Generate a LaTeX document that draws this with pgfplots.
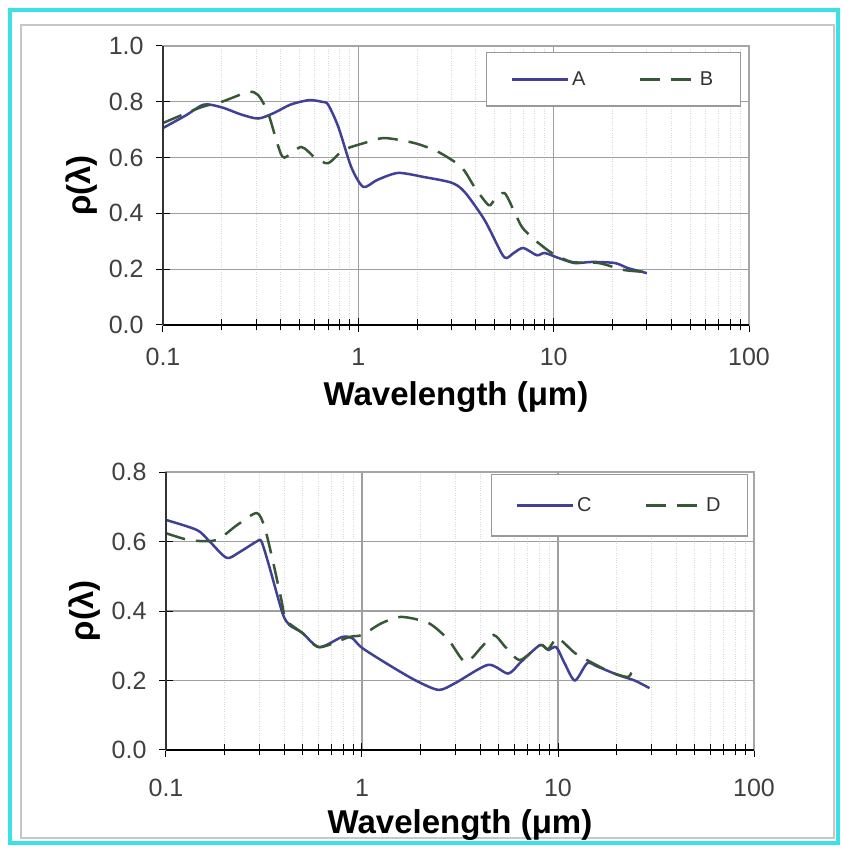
\documentclass[border=0pt]{standalone}
\usepackage{fontspec}
\setmainfont{Liberation Sans}
\usepackage{pgfplots}
\pgfplotsset{compat=1.18}
\definecolor{serA}{RGB}{64,64,150}
\definecolor{serB}{RGB}{55,88,55}
\definecolor{frameC}{RGB}{60,225,230}
\begin{document}
\begin{tikzpicture}
\fill[white] (0pt,0pt) rectangle (841pt,848pt);
\draw[frameC, line width=4pt] (10pt,5pt) rectangle (838pt,838pt);
\draw[gray!45, line width=1.5pt] (21pt,10pt) rectangle (834pt,823pt);
\begin{axis}[xmode=log, scale only axis,
    xmin=0.1, xmax=100,
    xtick={0.1,1,10,100}, xticklabels={0.1,1,10,100},
    minor xtick={0.2,0.3,0.4,0.5,0.6,0.7,0.8,0.9,2,3,4,5,6,7,8,9,20,30,40,50,60,70,80,90},
    tick align=center, tick pos=left,
    major tick length=14pt, minor tick length=11pt,
    tick style={black, line width=1pt},
    xmajorgrids, ymajorgrids, xminorgrids,
    major grid style={gray!75, line width=1.3pt},
    minor grid style={gray!30, dotted, line width=1pt},
    axis line style={gray!70, line width=1.3pt},
    /pgf/number format/assume math mode=true,
    yticklabel style={/pgf/number format/fixed, /pgf/number format/fixed zerofill, /pgf/number format/precision=1, font=\fontsize{25}{27}\selectfont, text=black!75, xshift=-9pt},
    xticklabel style={font=\fontsize{25}{27}\selectfont, text=black!75, yshift=-13pt},
    label style={font=\bfseries\fontsize{33}{35}\selectfont},
    xlabel={Wavelength (μm)},
    ylabel={ρ(λ)},
    xlabel shift=8pt, ylabel shift=4pt,
    legend columns=2,
    legend style={font=\fontsize{20}{22}\selectfont, draw=gray!80, line width=1.2pt, inner xsep=24pt, inner ysep=16pt, text=black!80, nodes={inner sep=3pt}},
    legend image code/.code={\draw[#1, line width=2.5pt] (0pt,0pt) -- (56pt,0pt);},
    clip=false,
  at={(163pt,523pt)}, anchor=south west, width=586pt, height=279pt,
  ymin=0, ymax=1, ytick={0,0.2,0.4,0.6,0.8,1.0},
  legend style={at={(rel axis cs:0.986,0.978)}, anchor=north east, /tikz/every even column/.append style={column sep=50pt}}]
\addplot[serA, line width=2.5pt, smooth, tension=0.45] coordinates {
(0.1,0.706) (0.13,0.75) (0.162,0.79) (0.2,0.78) (0.25,0.755) (0.307,0.74) (0.37,0.76) (0.45,0.79) (0.56,0.806) (0.65,0.80) (0.70,0.79) (0.79,0.71) (0.92,0.566) (1.06,0.495) (1.25,0.52) (1.6,0.545) (2.18,0.53) (3.0,0.51) (3.5,0.477) (4.43,0.376) (5.4,0.258) (5.74,0.24) (6.3,0.26) (7.0,0.276) (8.2,0.25) (9.0,0.258) (10.6,0.24) (12.8,0.222) (15.7,0.226) (20.6,0.222) (24,0.204) (30,0.186)};
\addlegendentry{A}
\addplot[serB, line width=2.5pt, smooth, tension=0.45, dash pattern=on 20pt off 11pt] coordinates {
(0.1,0.724) (0.156,0.78) (0.2,0.80) (0.273,0.835) (0.307,0.824) (0.345,0.76) (0.39,0.638) (0.418,0.60) (0.51,0.638) (0.6,0.60) (0.70,0.58) (0.84,0.627) (1.07,0.652) (1.36,0.67) (1.94,0.652) (2.57,0.62) (3.37,0.566) (3.93,0.495) (4.64,0.43) (5.0,0.45) (5.6,0.473) (6.3,0.405) (6.9,0.35) (8.0,0.305) (9.8,0.258) (12.4,0.226) (17,0.222) (23,0.197) (30,0.19)};
\addlegendentry{B}
\draw[black, line width=1.3pt] (rel axis cs:0,0) -- (rel axis cs:1,0);
\draw[black!80, line width=1.3pt] (rel axis cs:0,0) -- (rel axis cs:0,1);
\end{axis}
\begin{axis}[xmode=log, scale only axis,
    xmin=0.1, xmax=100,
    xtick={0.1,1,10,100}, xticklabels={0.1,1,10,100},
    minor xtick={0.2,0.3,0.4,0.5,0.6,0.7,0.8,0.9,2,3,4,5,6,7,8,9,20,30,40,50,60,70,80,90},
    tick align=center, tick pos=left,
    major tick length=14pt, minor tick length=11pt,
    tick style={black, line width=1pt},
    xmajorgrids, ymajorgrids, xminorgrids,
    major grid style={gray!75, line width=1.3pt},
    minor grid style={gray!30, dotted, line width=1pt},
    axis line style={gray!70, line width=1.3pt},
    /pgf/number format/assume math mode=true,
    yticklabel style={/pgf/number format/fixed, /pgf/number format/fixed zerofill, /pgf/number format/precision=1, font=\fontsize{25}{27}\selectfont, text=black!75, xshift=-9pt},
    xticklabel style={font=\fontsize{25}{27}\selectfont, text=black!75, yshift=-19pt},
    label style={font=\bfseries\fontsize{33}{35}\selectfont},
    xlabel={Wavelength (μm)},
    ylabel={ρ(λ)},
    xlabel shift=5pt, ylabel shift=4pt,
    legend columns=2,
    legend style={font=\fontsize{20}{22}\selectfont, draw=gray!80, line width=1.2pt, inner xsep=24pt, inner ysep=20pt, text=black!80, nodes={inner sep=3pt}},
    legend image code/.code={\draw[#1, line width=2.5pt] (0pt,0pt) -- (56pt,0pt);},
    clip=false,
  at={(166pt,98pt)}, anchor=south west, width=588pt, height=278pt,
  ymin=0, ymax=0.8, ytick={0,0.2,0.4,0.6,0.8},
  legend style={at={(rel axis cs:0.99,0.993)}, anchor=north east, /tikz/every even column/.append style={column sep=50pt}}]
\addplot[serA, line width=2.5pt, smooth, tension=0.45] coordinates {
(0.1,0.662) (0.144,0.633) (0.167,0.60) (0.204,0.553) (0.238,0.57) (0.29,0.60) (0.307,0.60) (0.337,0.527) (0.393,0.394) (0.426,0.36) (0.496,0.337) (0.605,0.296) (0.79,0.325) (0.89,0.322) (1.0,0.294) (1.37,0.245) (1.88,0.20) (2.46,0.173) (3.0,0.193) (4.4,0.245) (5.57,0.22) (6.46,0.253) (8.1,0.302) (8.9,0.288) (9.8,0.296) (10.8,0.25) (12.2,0.20) (14.1,0.25) (15.9,0.24) (20.2,0.216) (24.6,0.20) (29.3,0.178)};
\addlegendentry{C}
\addplot[serB, line width=2.5pt, smooth, tension=0.45, dash pattern=on 20pt off 11pt] coordinates {
(0.1,0.624) (0.132,0.604) (0.18,0.604) (0.23,0.647) (0.29,0.682) (0.318,0.642) (0.35,0.547) (0.388,0.432) (0.41,0.374) (0.496,0.337) (0.605,0.296) (0.86,0.325) (1.0,0.331) (1.26,0.365) (1.59,0.383) (2.19,0.365) (2.76,0.317) (3.37,0.253) (4.07,0.296) (4.7,0.331) (5.4,0.296) (6.4,0.259) (8.1,0.302) (8.9,0.29) (9.8,0.322) (10.6,0.311) (12.2,0.279) (14.7,0.253) (18.6,0.224) (22.6,0.21) (23.9,0.224) (24.6,0.21)};
\addlegendentry{D}
\draw[black, line width=1.3pt] (rel axis cs:0,0) -- (rel axis cs:1,0);
\draw[black!80, line width=1.3pt] (rel axis cs:0,0) -- (rel axis cs:0,1);
\end{axis}
\end{tikzpicture}
\end{document}
